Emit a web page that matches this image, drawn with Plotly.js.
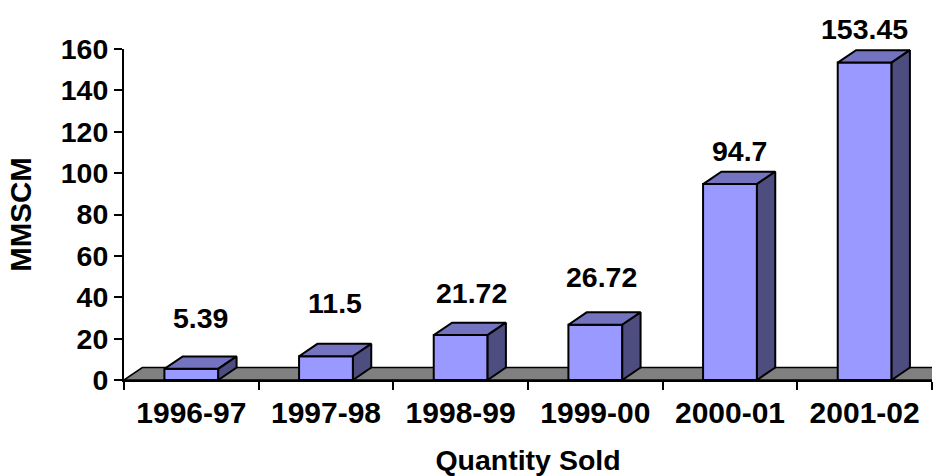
<!DOCTYPE html>
<html>
<head>
<meta charset="utf-8">
<script src="https://cdn.plot.ly/plotly-3.0.1.min.js"></script>
<style>
  html, body { margin: 0; padding: 0; background: #ffffff; }
  #chart { width: 940px; height: 476px; }
</style>
</head>
<body>
<div id="chart"></div>
<script>
// Quantity of gas sold per financial year (MMSCM)
const categories = ['1996-97', '1997-98', '1998-99', '1999-00', '2000-01', '2001-02'];
const quantity = [5.39, 11.5, 21.72, 26.72, 94.7, 153.45];
const yTicks = [0, 20, 40, 60, 80, 100, 120, 140, 160];

// --- pseudo-3D column geometry (in axis units) ---
const barWidth = 0.4;     // width of the front face, in category units
const depthX = 0.136;     // receding offset along x
const depthY = 6.0;       // receding offset along y (value units)

const FONT = 'Liberation Sans, Arial, Helvetica, sans-serif';
const FRONT = '#9999FF';
const TOP = '#7373BF';
const SIDE = '#4D4D80';
const FLOOR = '#808080';

// label placement tweaks (pixels)
const labelLift = [38, 41, 30, 35, 21, 21];
const labelShiftX = [9, 9, 11, 6, 9, 0];

const xs = categories.map((_, i) => i);

function polys(builder) {
  const px = [], py = [];
  xs.forEach((c, i) => {
    builder(c, quantity[i]).forEach(p => { px.push(p[0]); py.push(p[1]); });
    px.push(null); py.push(null);
  });
  return { x: px, y: py };
}

const h = barWidth / 2;
const frontFaces = polys((c, v) => [[c - h, 0], [c + h, 0], [c + h, v], [c - h, v], [c - h, 0]]);
const topFaces = polys((c, v) => [[c - h, v], [c + h, v], [c + h + depthX, v + depthY], [c - h + depthX, v + depthY], [c - h, v]]);
const sideFaces = polys((c, v) => [[c + h, 0], [c + h + depthX, depthY], [c + h + depthX, v + depthY], [c + h, v], [c + h, 0]]);

const xMin = -0.5, xMax = categories.length - 0.5;
const floorX = [xMin, xMax, xMax + depthX, xMin + depthX, xMin];
const floorY = [0, 0, depthY, depthY, 0];

function face(d, color, name, lw) {
  return {
    type: 'scatter', mode: 'lines', x: d.x, y: d.y, name: name,
    fill: 'toself', fillcolor: color,
    line: { color: '#000000', width: lw },
    connectgaps: false, hoverinfo: 'skip', showlegend: false
  };
}

const traces = [
  face({ x: floorX, y: floorY }, FLOOR, 'floor', 1.5),
  face(frontFaces, FRONT, 'front', 2),
  face(topFaces, TOP, 'top', 2),
  face(sideFaces, SIDE, 'side', 2)
];

const annotations = quantity.map((v, i) => ({
  x: i, y: v + depthY, xref: 'x', yref: 'y',
  text: String(v), showarrow: false,
  xanchor: 'center', yanchor: 'middle',
  xshift: labelShiftX[i], yshift: labelLift[i],
  font: { family: FONT, size: 28.5, color: '#000000', weight: 700 }
}));

const layout = {
  width: 940, height: 476,
  margin: { l: 124, r: 8, t: 49, b: 96, pad: 0 },
  paper_bgcolor: '#ffffff', plot_bgcolor: '#ffffff',
  showlegend: false,
  font: { family: FONT, size: 28, color: '#000000', weight: 700 },
  xaxis: {
    range: [xMin, xMax],
    tickmode: 'array', tickvals: xs, ticktext: categories,
    ticks: '', showgrid: false, zeroline: false,
    showline: true, linecolor: '#000000', linewidth: 2,
    tickfont: { family: FONT, size: 30, color: '#000000', weight: 700 },
    ticklabelstandoff: 5,
    minor: { tickmode: 'linear', tick0: -0.5, dtick: 1, ticks: 'outside', ticklen: 8, tickwidth: 2, tickcolor: '#000000', showgrid: false },
    title: { text: 'Quantity Sold', font: { family: FONT, size: 28.5, color: '#000000', weight: 700 }, standoff: 29 },
    fixedrange: true
  },
  yaxis: {
    range: [0, 160],
    tickmode: 'array', tickvals: yTicks,
    ticks: 'outside', ticklen: 8, tickwidth: 2, tickcolor: '#000000',
    showgrid: false, zeroline: false,
    showline: true, linecolor: '#000000', linewidth: 2,
    tickfont: { family: FONT, size: 28.5, color: '#000000', weight: 700 },
    title: { text: 'MMSCM', font: { family: FONT, size: 29.5, color: '#000000', weight: 700 }, standoff: 20 },
    fixedrange: true
  },
  annotations: annotations
};

Plotly.newPlot('chart', traces, layout, { staticPlot: true, displayModeBar: false });
</script>
</body>
</html>
